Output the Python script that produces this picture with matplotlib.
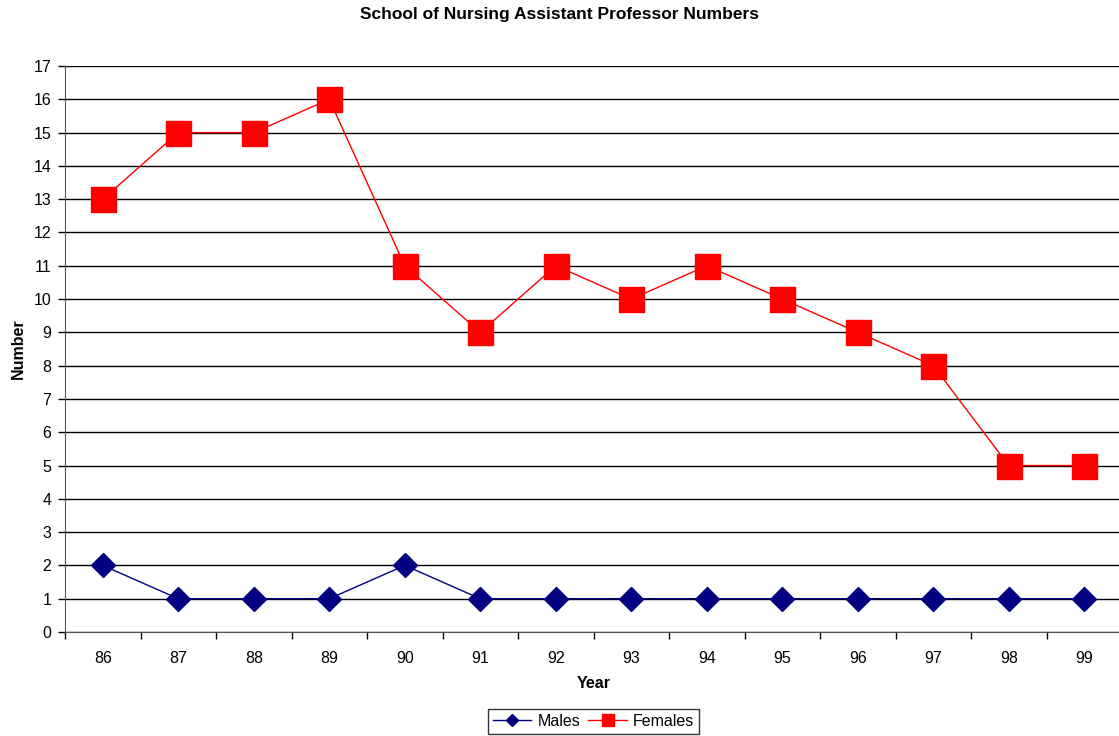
import matplotlib.pyplot as plt
from matplotlib.ticker import FixedLocator

plt.rcParams['font.family'] = ['Liberation Sans', 'DejaVu Sans']

years = ['86', '87', '88', '89', '90', '91', '92', '93', '94', '95', '96', '97', '98', '99']
males = [2, 1, 1, 1, 2, 1, 1, 1, 1, 1, 1, 1, 1, 1]
females = [13, 15, 15, 16, 11, 9, 11, 10, 11, 10, 9, 8, 5, 5]

fig = plt.figure(figsize=(11.19, 7.36), dpi=100)
ax = fig.add_axes([0.0581, 0.1413, 0.9446, 0.769])

x = list(range(len(years)))
ax.plot(x, males, color='#000080', lw=1, marker='D', markersize=12,
        markerfacecolor='#000080', markeredgecolor='#000080', label='Males', zorder=3)
ax.plot(x, females, color='#FF0000', lw=1, marker='s', markersize=18,
        markerfacecolor='#FF0000', markeredgecolor='#FF0000', label='Females', zorder=3)

ax.set_xlim(-0.5, len(years) - 0.5)
ax.set_ylim(0, 17)
ax.set_yticks(range(0, 18))
ax.set_xticks(x)
ax.set_xticklabels(years)
ax.tick_params(axis='x', which='major', length=0, labelsize=11.5, pad=14)
ax.xaxis.set_minor_locator(FixedLocator([i + 0.5 for i in range(-1, len(years))]))
ax.tick_params(axis='x', which='minor', length=5, width=1, direction='out')
ax.tick_params(axis='y', length=5, width=1, direction='out', labelsize=11.5, pad=5)

ax.yaxis.grid(True, color='black', lw=1)
ax.set_axisbelow(True)
for s in ['top', 'right']:
    ax.spines[s].set_visible(False)
ax.spines['left'].set_color('#555555')
ax.spines['bottom'].set_color('#555555')

ax.set_xlabel('Year', fontsize=11.5, fontweight='bold', labelpad=7)
ax.set_ylabel('Number', fontsize=11.5, fontweight='bold', labelpad=5)
fig.suptitle('School of Nursing Assistant Professor Numbers', fontsize=12.5,
             fontweight='bold', y=0.99)

leg = fig.legend(loc='lower center', bbox_to_anchor=(0.5305, 0.0), ncol=2,
                 frameon=True, fancybox=False, edgecolor='black', fontsize=11.5,
                 markerscale=0.5, handlelength=2.4, columnspacing=0.5,
                 handletextpad=0.4, borderpad=0.3, borderaxespad=0.15)
leg.get_frame().set_linewidth(1)

fig.savefig('out.png', dpi=100)
